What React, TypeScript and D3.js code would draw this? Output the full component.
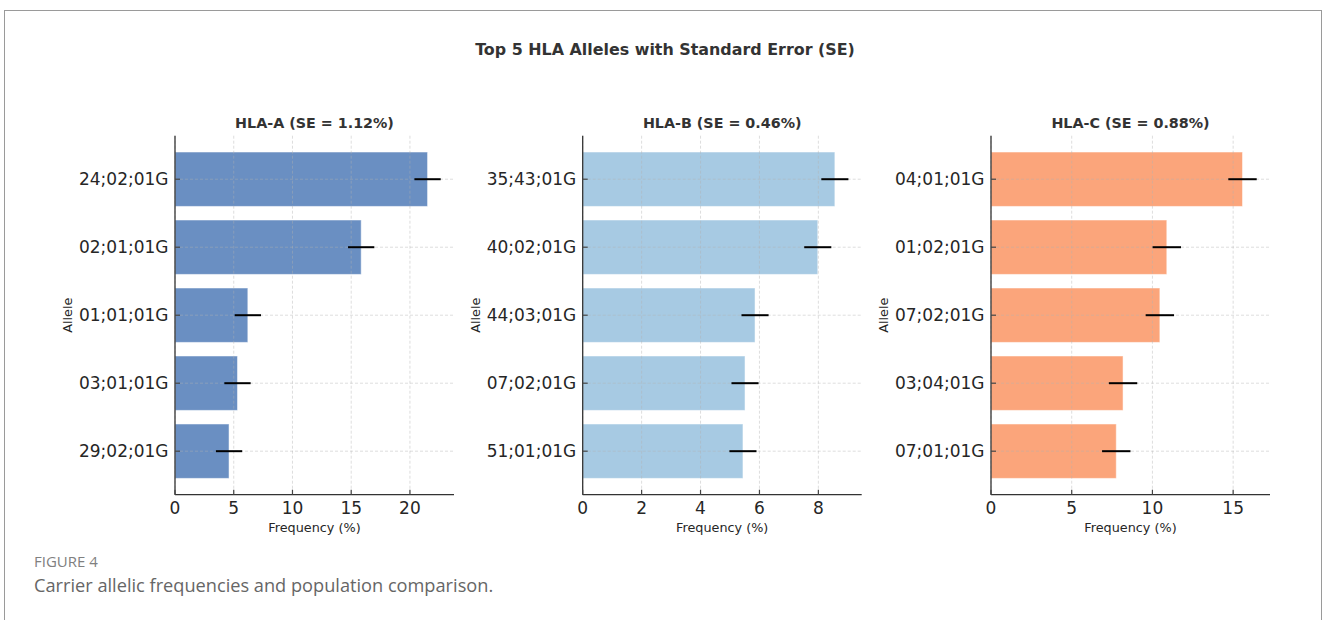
import React from "react";
import * as d3 from "d3";

const mainTitle = "Top 5 HLA Alleles with Standard Error (SE)";

const allelesA = ["24;02;01G", "02;01;01G", "01;01;01G", "03;01;01G", "29;02;01G"];
const valuesA = [21.5, 15.85, 6.2, 5.32, 4.6];
const seA = 1.12;
const ticksA = [0, 5, 10, 15, 20];

const allelesB = ["35;43;01G", "40;02;01G", "44;03;01G", "07;02;01G", "51;01;01G"];
const valuesB = [8.56, 7.98, 5.85, 5.51, 5.44];
const seB = 0.46;
const ticksB = [0, 2, 4, 6, 8];

const allelesC = ["04;01;01G", "01;02;01G", "07;02;01G", "03;04;01G", "07;01;01G"];
const valuesC = [15.58, 10.89, 10.46, 8.18, 7.76];
const seC = 0.88;
const ticksC = [0, 5, 10, 15];

const panels = [
  { title: "HLA-A (SE = 1.12%)", alleles: allelesA, values: valuesA, se: seA, ticks: ticksA, color: "#6a8fc2", left: 175 },
  { title: "HLA-B (SE = 0.46%)", alleles: allelesB, values: valuesB, se: seB, ticks: ticksB, color: "#a7cae3", left: 582.7 },
  { title: "HLA-C (SE = 0.88%)", alleles: allelesC, values: valuesC, se: seC, ticks: ticksC, color: "#fba57b", left: 991 },
];

const FONT = "'DejaVu Sans', sans-serif";
const W = 1328;
const H = 620;
const TOP = 135.7;
const BOTTOM = 494.7;
const PW = 279;

function Panel({ p }: { p: typeof panels[0] }) {
  const n = p.alleles.length;
  const xmax = d3.max(p.values.map((v) => v + p.se))! * 1.05;
  const x = d3.scaleLinear().domain([0, xmax]).range([p.left, p.left + PW]);
  const barH = 0.8;
  const y = d3.scaleLinear().domain([-0.4 - 0.24, n - 1 + 0.4 + 0.24]).range([TOP, BOTTOM]);
  const cx = p.left + PW / 2;
  return (
    <g>
      {p.values.map((v, i) => (
        <rect
          key={"b" + i}
          x={x(0)}
          y={y(i - barH / 2)}
          width={x(v) - x(0)}
          height={y(i + barH / 2) - y(i - barH / 2)}
          fill={p.color}
          stroke="#ffffff"
          strokeOpacity={0.5}
          strokeWidth={1}
        />
      ))}
      {p.ticks.map((t, i) => (
        <line key={"gx" + i} x1={x(t)} x2={x(t)} y1={TOP} y2={BOTTOM} stroke="#b0b0b0" strokeOpacity={0.55} strokeWidth={0.8} strokeDasharray="3,2" />
      ))}
      {p.alleles.map((a, i) => (
        <line key={"gy" + i} x1={p.left} x2={p.left + PW} y1={y(i)} y2={y(i)} stroke="#b0b0b0" strokeOpacity={0.55} strokeWidth={0.8} strokeDasharray="3,2" />
      ))}
      {p.values.map((v, i) => (
        <line key={"e" + i} x1={x(v - p.se)} x2={x(v + p.se)} y1={y(i)} y2={y(i)} stroke="#000" strokeWidth={2} />
      ))}
      <line x1={p.left} x2={p.left} y1={TOP} y2={BOTTOM} stroke="#333" strokeWidth={1.3} />
      <line x1={p.left} x2={p.left + PW} y1={BOTTOM} y2={BOTTOM} stroke="#333" strokeWidth={1.3} />
      {p.alleles.map((a, i) => (
        <g key={"yt" + i}>
          <line x1={p.left} x2={p.left + 5} y1={y(i)} y2={y(i)} stroke="#444" strokeWidth={1.2} />
          <text x={p.left - 6.5} y={y(i)} dy="0.36em" textAnchor="end" fontFamily={FONT} fontSize={17} fill="#262626">
            {a}
          </text>
        </g>
      ))}
      {p.ticks.map((t, i) => (
        <g key={"xt" + i}>
          <line x1={x(t)} x2={x(t)} y1={BOTTOM} y2={BOTTOM - 5} stroke="#444" strokeWidth={1.2} />
          <text x={x(t)} y={BOTTOM + 19.5} textAnchor="middle" fontFamily={FONT} fontSize={17} fill="#262626">
            {t}
          </text>
        </g>
      ))}
      <text x={cx} y={532} textAnchor="middle" fontFamily={FONT} fontSize={12.8} fill="#262626">
        Frequency (%)
      </text>
      <text
        transform={`translate(${p.left - 103},${(TOP + BOTTOM) / 2}) rotate(-90)`}
        textAnchor="middle"
        fontFamily={FONT}
        fontSize={12.8}
        fill="#262626"
      >
        Allele
      </text>
      <text x={cx} y={128} textAnchor="middle" fontFamily={FONT} fontWeight="bold" fontSize={14.3} fill="#333">
        {p.title}
      </text>
    </g>
  );
}

export default function App() {
  return (
    <svg width={W} height={H} style={{ position: "absolute", left: 0, top: 0, background: "#fff" }}>
      <rect x={0} y={0} width={W} height={H} fill="#fff" />
      <rect x={4.5} y={10.5} width={1317} height={640} fill="none" stroke="#9a9a9a" strokeWidth={1} />
      <text x={665} y={55} textAnchor="middle" fontFamily={FONT} fontWeight="bold" fontSize={15.9} fill="#333">
        {mainTitle}
      </text>
      {panels.map((p, i) => (
        <Panel key={i} p={p} />
      ))}
      <text x={34} y={567} fontFamily="'Open Sans', sans-serif" fontSize={15} fill="#808080">
        FIGURE 4
      </text>
      <text x={34} y={592} fontFamily="'Open Sans', sans-serif" fontSize={18.2} fill="#666">
        Carrier allelic frequencies and population comparison.
      </text>
    </svg>
  );
}
